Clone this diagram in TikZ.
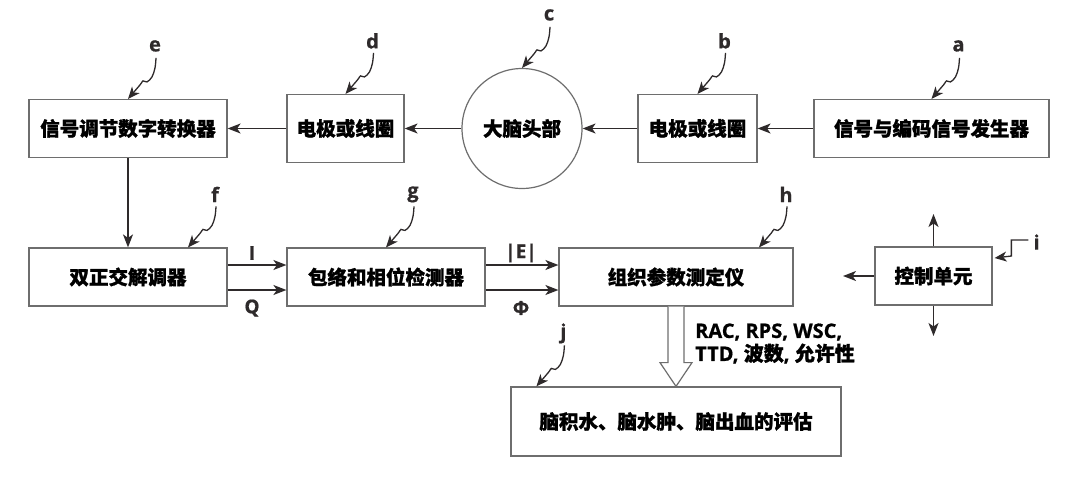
\documentclass[tikz,border=0pt]{standalone}
\usepackage{fontspec}
\setmainfont{Open Sans}[BoldFeatures={FakeBold=0.8}]
\newfontfamily\cjk{Noto Sans CJK SC}[BoldFeatures={FakeBold=1.2}]
\usetikzlibrary{arrows.meta,calc}

\definecolor{boxgray}{HTML}{6E6E6E}
\definecolor{ink}{HTML}{2E2A2B}

% reference pointer: a wavy arrow from a letter down to the point #1
\newcommand\pointer[3]{%
  \node[letter] (#2) at ($(#1)+(27,-53)$) {#3};
  \draw[squig, shift={(#1)}] plot[smooth, tension=0.6]
    coordinates {(28,-41) (27,-31) (24,-22) (19,-17) (15,-18) (12,-14) (0,0)};
}

\begin{document}
\begin{tikzpicture}[x=1pt,y=-1pt,
  box/.style={draw=boxgray, line width=1.2pt, fill=white, inner sep=0pt,
    font=\cjk\bfseries\fontsize{19.5}{23}\selectfont, text=black},
  flow/.style={draw=ink, line width=1.5pt, -{Stealth[length=13pt,width=10pt,inset=3.5pt]}},
  squig/.style={draw=ink, line width=1.3pt, -{Stealth[length=12pt,width=10pt,inset=3.5pt]}},
  letter/.style={font=\bfseries\fontsize{20}{20}\selectfont, inner sep=0pt, text=ink},
  sig/.style={font=\bfseries\fontsize{19}{19}\selectfont, inner sep=0pt, text=ink},
]
\useasboundingbox (0,0) rectangle (1089,482);

% top row: generator -> electrodes -> head -> electrodes -> converter
\node[box, minimum width=198pt, minimum height=58pt] (adc) at (128,128.5) {信号调节数字转换器};
\node[box, minimum width=117pt, minimum height=68pt] (el1) at (345.5,128.5) {电极或线圈};
\node[box, circle, minimum size=120pt] (head) at (522,128.5) {大脑头部};
\node[box, minimum width=119pt, minimum height=68pt] (el2) at (697.5,128.5) {电极或线圈};
\node[box, minimum width=235pt, minimum height=58pt] (gen) at (931.5,128.5) {信号与编码信号发生器};

% second row: demodulation and measurement
\node[box, minimum width=198pt, minimum height=58pt] (demod) at (128,277) {双正交解调器};
\node[box, minimum width=198pt, minimum height=58pt] (det) at (386,277) {包络和相位检测器};
\node[box, minimum width=234pt, minimum height=58pt] (meter) at (676,277) {组织参数测定仪};
\node[box, minimum width=117pt, minimum height=58pt] (ctrl) at (933.5,276) {控制单元};

% evaluation
\node[box, minimum width=330pt, minimum height=69pt] (eval) at (676,421.5) {脑积水、脑水肿、脑出血的评估};

% signal path
\draw[flow] (gen) -- (el2);
\draw[flow] (el2) -- (head);
\draw[flow] (head) -- (el1);
\draw[flow] (el1) -- (adc);
\draw[flow] (adc) -- (demod);

\draw[flow] ($(demod.east)+(0,-12)$) -- ($(det.west)+(0,-12)$);
\draw[flow] ($(demod.east)+(0,13)$) -- ($(det.west)+(0,13)$);
\node[sig] (lI) at (252,253) {I};
\node[sig] (lQ) at (252,308) {Q};

\draw[flow] ($(det.east)+(0,-12)$) -- ($(meter.west)+(0,-12)$);
\draw[flow] ($(det.east)+(0,13)$) -- ($(meter.west)+(0,13)$);
\node[sig] (lE) at (521,253) {|E|};
\node[sig] (lP) at (521,308) {Φ};

% control unit outputs
\coordinate (cl) at (843,276);
\coordinate (cu) at (933.5,214);
\coordinate (cd) at (933.5,336);
\draw[flow] (ctrl.west) -- (cl);
\draw[flow] (ctrl.north) -- (cu);
\draw[flow] (ctrl.south) -- (cd);

% hollow arrow carrying the tissue parameters
\draw[draw=boxgray, line width=1.2pt, fill=white]
  ($(meter.south)+(-8,0)$) -- ++(0,56) -- ++(-8,0) -- (eval.north)
  -- ($(meter.south)+(16,56)$) -- ++(-8,0) -- ($(meter.south)+(8,0)$);
\node[anchor=west, inner sep=0pt, align=left, text=black,
  font=\bfseries\fontsize{20}{23}\selectfont] (params) at (695,343.5)
  {RAC, RPS, WSC,\\TTD, {\cjk 波数}, {\cjk 允许性}};

% reference letters
\pointer{adc.north}{le}{e}
\pointer{el1.north}{ld}{d}
\pointer{head.north}{lc}{c}
\pointer{el2.north}{lb}{b}
\pointer{gen.north}{la}{a}
\coordinate (tf) at ($(demod.north)+(60,0)$);
\pointer{tf}{lf}{f}
\pointer{det.north}{lg}{g}
\coordinate (th) at ($(meter.north)+(83,0)$);
\pointer{th}{lh}{h}
\coordinate (tj) at ($(eval.north west)+(26,0)$);
\pointer{tj}{lj}{j}

% letter i with its angled pointer
\coordinate (ti) at ($(ctrl.east)+(2,-18)$);
\node[letter] (li) at ($(ti)+(42,-16)$) {i};
\draw[squig] ($(li.west)+(-5,-2)$) -- ++(-17,0) -- ++(0,16) -- (ti);
\end{tikzpicture}
\end{document}
